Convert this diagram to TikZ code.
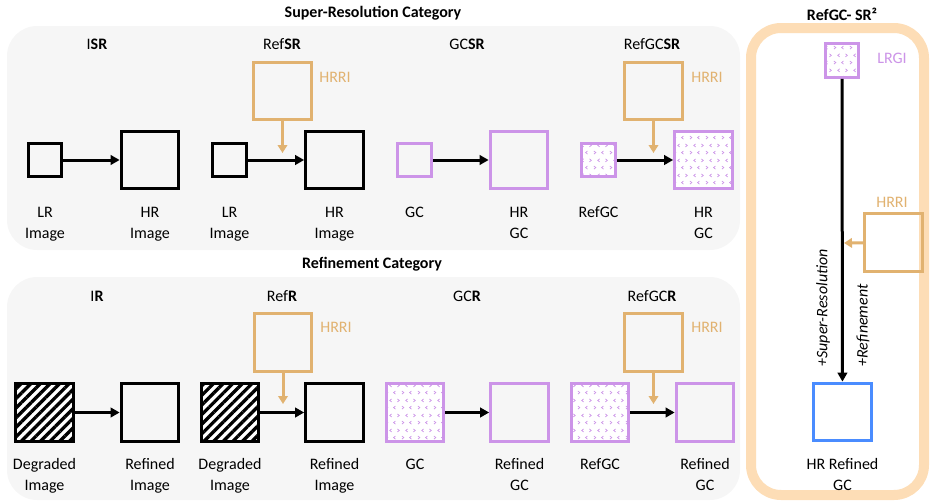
\documentclass[tikz,border=0pt]{standalone}
\usepackage{fontspec}
\setmainfont{Carlito}
\usetikzlibrary{arrows.meta,patterns.meta}
\definecolor{gcp}{RGB}{204,148,232}
\definecolor{hrri}{RGB}{225,178,112}
\definecolor{hrblue}{RGB}{74,140,255}
\definecolor{panelgray}{RGB}{246,246,246}
\definecolor{rborder}{RGB}{253,221,182}
\newcommand{\twol}[2]{\strut #1\\\strut #2}
\tikzdeclarepattern{
  name=chev,
  type=uncolored,
  bounding box={(0pt,0pt) and (16pt,15pt)},
  tile size={(16pt,15pt)},
  code={
    \draw[line width=0.7pt] (2pt,2pt) -- (4pt,3.6pt) -- (2pt,5.2pt);
    \draw[line width=0.7pt] (12pt,2pt) -- (10pt,3.6pt) -- (12pt,5.2pt);
    \draw[line width=0.7pt] (8pt,9.5pt) -- (6pt,11.1pt) -- (8pt,12.7pt);
    \draw[line width=0.7pt] (14pt,9.5pt) -- (16pt,11.1pt) -- (14pt,12.7pt);
  }
}
\begin{document}
\begin{tikzpicture}[x=1pt,y=-1pt,
  font=\fontsize{16}{21}\selectfont,
  box/.style={draw, line width=3.2pt, inner sep=0pt, minimum size=57.5pt},
  sbox/.style={draw, line width=3.2pt, inner sep=0pt, minimum size=33.5pt},
  gcbox/.style={draw=gcp},
  refbox/.style={draw=hrri},
  chevfill/.style={preaction={fill=white}, pattern=chev, pattern color=gcp},
  hatchfill/.style={preaction={fill=white}, pattern={Lines[angle=45,distance=6.8pt,line width=3.3pt]}, pattern color=black},
  arr/.style={line width=3pt, -{Triangle[length=9pt,width=9.5pt]}},
  oarr/.style={draw=hrri, line width=3pt, -{Triangle[length=8pt,width=9.5pt]}},
  lbl/.style={align=center},
  hlbl/.style={text=hrri},
  ttl/.style={font=\fontsize{16}{21}\selectfont\bfseries}
]
\useasboundingbox (0,0) rectangle (930,501);
% panels
\fill[panelgray, rounded corners=30pt] (7,26) rectangle (740,250);
\fill[panelgray, rounded corners=30pt] (7,277) rectangle (740,500);
\draw[rborder, line width=10pt, fill=white, rounded corners=30pt] (751,28) rectangle (924,495);
% titles
\node[ttl] (t1) at (373,13) {Super-Resolution Category};
\node[ttl] (t2) at (372,264) {Refinement Category};
\node[ttl] (t3) at (842,14) {RefGC- SR²};
% ---------- top row
\node (h1) at (97,44) {I\textbf{SR}};
\node (h2) at (282,44) {Ref\textbf{SR}};
\node (h3) at (467,44) {GC\textbf{SR}};
\node (h4) at (652,44) {RefGC\textbf{SR}};
% ISR
\node[sbox] (a1) at (45,160) {};
\node[box] (a2) at (150,160) {};
\draw[arr] (a1) -- (a2);
\node[lbl] (la1) at (45,224) {\twol{LR}{Image}};
\node[lbl] (la2) at (150,224) {\twol{HR}{Image}};
% RefSR
\node[sbox] (b1) at (229.5,160) {};
\node[box] (b2) at (334.5,160) {};
\node[box,refbox] (b3) at (282.5,91) {};
\node[hlbl] (lb3) at (335,77) {HRRI};
\coordinate (b3e) at (282.5,153);
\draw[arr] (b1) -- (b2);
\draw[oarr] (b3) -- (b3e);
\node[lbl] (lb1) at (229.5,224) {\twol{LR}{Image}};
\node[lbl] (lb2) at (334.5,224) {\twol{HR}{Image}};
% GCSR
\node[sbox,gcbox] (c1) at (414.5,160) {};
\node[box,gcbox] (c2) at (519,160) {};
\draw[arr] (c1) -- (c2);
\node[lbl] (lc1) at (414.5,213.5) {\strut GC};
\node[lbl] (lc2) at (519,224) {\twol{HR}{GC}};
% RefGCSR
\node[sbox,gcbox,chevfill] (d1) at (598.5,160) {};
\node[box,gcbox,chevfill] (d2) at (703.5,160) {};
\node[box,refbox] (d3) at (653.5,91) {};
\node[hlbl] (ld3) at (707,77) {HRRI};
\coordinate (d3e) at (653.5,153);
\draw[arr] (d1) -- (d2);
\draw[oarr] (d3) -- (d3e);
\node[lbl] (ld1) at (598.5,213.5) {\strut RefGC};
\node[lbl] (ld2) at (703.5,224) {\twol{HR}{GC}};
% ---------- bottom row
\node (g1) at (97,296) {I\textbf{R}};
\node (g2) at (282,296) {Ref\textbf{R}};
\node (g3) at (467,296) {GC\textbf{R}};
\node (g4) at (652,296) {RefGC\textbf{R}};
% IR
\node[box,hatchfill] (e1) at (44.5,412.5) {};
\node[box] (e2) at (150,412.5) {};
\draw[arr] (e1) -- (e2);
\node[lbl] (le1) at (44.5,476) {\twol{Degraded}{Image}};
\node[lbl] (le2) at (150,476) {\twol{Refined}{Image}};
% RefR
\node[box,hatchfill] (f1) at (230,412.5) {};
\node[box] (f2) at (334.5,412.5) {};
\node[box,refbox] (f3) at (283,342.5) {};
\node[hlbl] (lf3) at (336,327) {HRRI};
\coordinate (f3e) at (283,404);
\draw[arr] (f1) -- (f2);
\draw[oarr] (f3) -- (f3e);
\node[lbl] (lf1) at (230,476) {\twol{Degraded}{Image}};
\node[lbl] (lf2) at (334.5,476) {\twol{Refined}{Image}};
% GCR
\node[box,gcbox,chevfill] (k1) at (415,412.5) {};
\node[box,gcbox] (k2) at (519.5,412.5) {};
\draw[arr] (k1) -- (k2);
\node[lbl] (lk1) at (415,465.5) {\strut GC};
\node[lbl] (lk2) at (519.5,476) {\twol{Refined}{GC}};
% RefGCR
\node[box,gcbox,chevfill] (m1) at (600,412.5) {};
\node[box,gcbox] (m2) at (705,412.5) {};
\node[box,refbox] (m3) at (653.5,342.5) {};
\node[hlbl] (lm3) at (707,327) {HRRI};
\coordinate (m3e) at (653.5,404);
\draw[arr] (m1) -- (m2);
\draw[oarr] (m3) -- (m3e);
\node[lbl] (lm1) at (600,465.5) {\strut RefGC};
\node[lbl] (lm2) at (705,476) {\twol{Refined}{GC}};
% ---------- right panel
\node[sbox,gcbox,chevfill] (r1) at (842,60.5) {};
\node[text=gcp] (lr1) at (892,58) {LRGI};
\node[box,refbox] (r2) at (893.5,242.5) {};
\node[hlbl] (lr2) at (892,202) {HRRI};
\node[box,draw=hrblue] (r3) at (842.5,412) {};
\coordinate (r2e) at (844,243);
\draw[arr] (r1) -- (r3);
\draw[oarr] (r2) -- (r2e);
\node[rotate=90, anchor=west, font=\fontsize{16}{21}\selectfont\itshape] (s1) at (823,370) {+Super-Resolution};
\node[rotate=90, anchor=west, font=\fontsize{16}{21}\selectfont\itshape] (s2) at (863,370) {+Refinement};
\node[lbl] (lr3) at (842.5,476) {\twol{HR Refined}{GC}};
\end{tikzpicture}
\end{document}
